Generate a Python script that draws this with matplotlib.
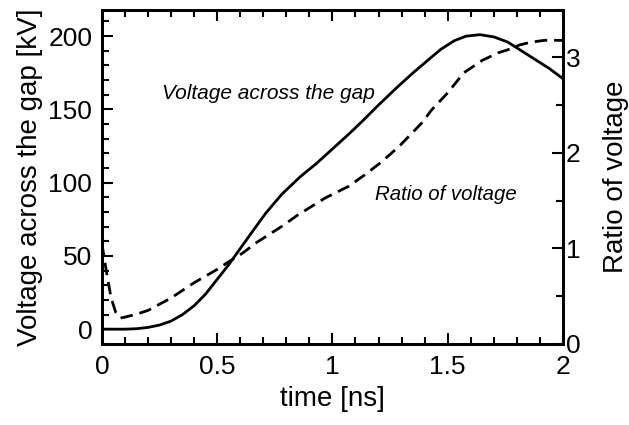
import matplotlib
matplotlib.use("Agg")
import matplotlib.pyplot as plt
from matplotlib.ticker import MultipleLocator

plt.rcParams['font.family'] = ['Liberation Sans', 'DejaVu Sans']

# voltage across the gap [kV] vs time [ns]
t_volt = [0, 0.05, 0.1, 0.15, 0.2, 0.25, 0.3, 0.35, 0.4, 0.45, 0.5, 0.55, 0.6,
          0.65, 0.71, 0.78, 0.86, 0.93, 1.0, 1.07, 1.13, 1.2, 1.28, 1.35, 1.41,
          1.47, 1.53, 1.58, 1.64, 1.7, 1.76, 1.82, 1.88, 1.94, 2.0]
volt = [0, 0, 0, 0.3, 1.2, 2.8, 5.5, 10, 16, 24, 34, 44, 55,
        66, 79, 92, 104, 113, 123, 133, 142, 153, 165, 175, 183,
        191, 197, 200, 201, 199.5, 196, 190, 184, 178, 171]

# ratio of voltage vs time [ns]
t_ratio = [0, 0.02, 0.04, 0.06, 0.08, 0.1, 0.15, 0.2, 0.3, 0.4, 0.5, 0.55, 0.61,
           0.67, 0.78, 0.85, 0.97, 1.07, 1.14, 1.21, 1.29, 1.35, 1.39, 1.43, 1.5,
           1.57, 1.65, 1.72, 1.76, 1.81, 1.86, 1.92, 1.98, 2.0]
ratio = [1.05, 0.75, 0.48, 0.33, 0.27, 0.28, 0.31, 0.35, 0.48, 0.64, 0.78, 0.86, 0.95,
         1.06, 1.23, 1.35, 1.53, 1.65, 1.77, 1.90, 2.07, 2.22, 2.32, 2.45, 2.63,
         2.84, 2.97, 3.05, 3.08, 3.13, 3.16, 3.18, 3.18, 3.18]

xticks = [0, 0.5, 1, 1.5, 2]
xtick_labels = ['0', '0.5', '1', '1.5', '2']

fig = plt.figure(figsize=(6.29, 4.25), dpi=100)
ax = fig.add_axes([0.162, 0.191, 0.733, 0.786])
ax2 = ax.twinx()

ax.plot(t_volt, volt, color='k', lw=2.0, solid_capstyle='butt')
ax2.plot(t_ratio, ratio, color='k', lw=2.0, linestyle=(0, (4.5, 2.5)))

ax.set_xlim(0, 2)
ax.set_ylim(-10, 218)
ax2.set_ylim(0, 3.5)

ax.set_xticks(xticks)
ax.set_xticklabels(xtick_labels)
ax.xaxis.set_minor_locator(MultipleLocator(0.1))
ax.yaxis.set_major_locator(MultipleLocator(50))
ax.yaxis.set_minor_locator(MultipleLocator(10))
ax2.yaxis.set_major_locator(MultipleLocator(1))
ax2.yaxis.set_minor_locator(MultipleLocator(0.5))

ax.tick_params(which='both', direction='in', top=True, right=False, width=1.5, labelsize=19)
ax.tick_params(axis='x', pad=8)
ax.tick_params(axis='y', pad=7)
ax.tick_params(which='major', length=8)
ax.tick_params(which='minor', length=5)
ax2.tick_params(which='both', direction='in', width=1.5, labelsize=19, pad=2)
ax2.tick_params(which='major', length=8)
ax2.tick_params(which='minor', length=5)

for a in (ax, ax2):
    for s in a.spines.values():
        s.set_linewidth(2)

ax.set_xlabel('time [ns]', fontsize=20, labelpad=5)
ax.set_ylabel('Voltage across the gap [kV]', fontsize=20, labelpad=4)
ax2.set_ylabel('Ratio of voltage', fontsize=20, labelpad=16)

ax.text(0.261, 157, 'Voltage across the gap', fontsize=15, style='italic', va='baseline')
ax.text(1.183, 88, 'Ratio of voltage', fontsize=14.7, style='italic', va='baseline')

fig.savefig('out.png', dpi=100)
